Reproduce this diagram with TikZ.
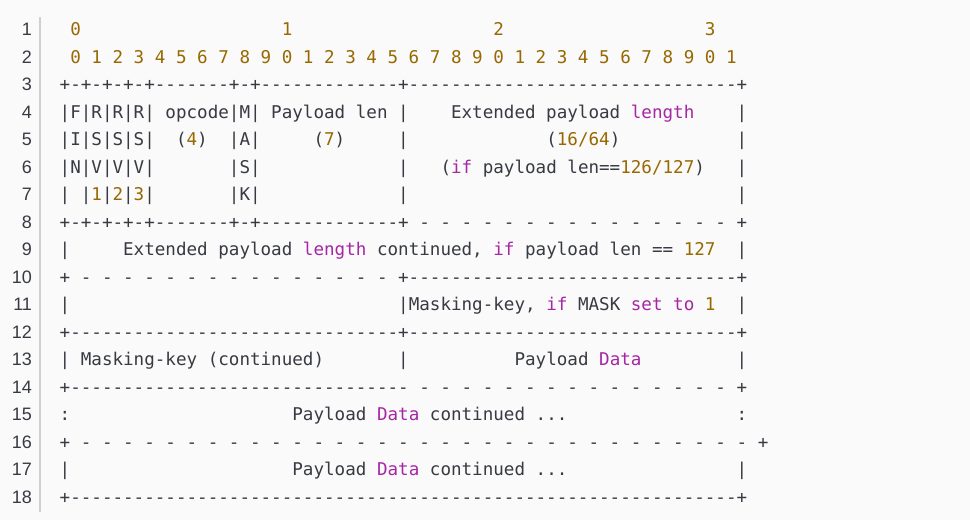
\documentclass[tikz,border=0pt]{standalone}
\usepackage{fontspec}
\setmonofont{DejaVu Sans Mono}
\newfontfamily\lnfont{Liberation Sans}
\definecolor{bgc}{HTML}{FAFAFA}
\definecolor{txtc}{HTML}{383A42}
\definecolor{numc}{HTML}{986801}
\definecolor{kwc}{HTML}{A626A4}
\definecolor{sepc}{HTML}{CFCFCF}
\ExplSyntaxOn
\cs_new:Npn \blanks #1 { \prg_replicate:nn {#1} { \nobreakspace } }
\cs_new:Npn \dashes #1 { \prg_replicate:nn {#1} { - } }
\cs_new:Npn \ddash #1 { \prg_replicate:nn {#1} { \nobreakspace - } }
\ExplSyntaxOff
\newcommand\nm[1]{\textcolor{numc}{#1}}
\newcommand\kw[1]{\textcolor{kwc}{#1}}
\tikzset{
  code/.style={anchor=base west, inner sep=0pt, outer sep=0pt, text=txtc,
    font=\ttfamily\fontsize{17.57}{20}\selectfont},
  lnum/.style={anchor=base east, inner sep=0pt, outer sep=0pt, text=txtc,
    font=\lnfont\fontsize{18}{20}\selectfont},
  sep/.style={draw=sepc, line width=1.5pt}
}
\begin{document}
\begin{tikzpicture}[x=1pt,y=1pt]
\useasboundingbox[fill=bgc] (0,0) rectangle (970,-520);
\coordinate (s1) at (40,-17);
\coordinate (s2) at (40,-512);
\draw[sep] (s1) -- (s2);
\foreach \i in {1,...,18}{
  \node[lnum] (n\i) at (32,{-(35.5+(\i-1)*27.53)}) {\i};
}
\def\X{59.7}
\def\Y#1{-(35.5+(#1-1)*27.53)}
\node[code] (l1) at (\X,{\Y{1}}) {\blanks{1}\nm{0}\blanks{19}\nm{1}\blanks{19}\nm{2}\blanks{19}\nm{3}};
\node[code] (l2) at (\X,{\Y{2}}) {\blanks{1}\nm{0~1~2~3~4~5~6~7~8~9~0~1~2~3~4~5~6~7~8~9~0~1~2~3~4~5~6~7~8~9~0~1}};
\node[code] (l3) at (\X,{\Y{3}}) {+-+-+-+-+\dashes{7}+-+\dashes{13}+\dashes{31}+};
\node[code] (l4) at (\X,{\Y{4}}) {|F|R|R|R|~opcode|M|~Payload~len~|\blanks{4}Extended~payload~\kw{length}\blanks{4}|};
\node[code] (l5) at (\X,{\Y{5}}) {|I|S|S|S|\blanks{2}(\nm{4})\blanks{2}|A|\blanks{5}(\nm{7})\blanks{5}|\blanks{13}(\nm{16/64})\blanks{11}|};
\node[code] (l6) at (\X,{\Y{6}}) {|N|V|V|V|\blanks{7}|S|\blanks{13}|\blanks{3}(\kw{if}~payload~len==\nm{126/127})\blanks{3}|};
\node[code] (l7) at (\X,{\Y{7}}) {|~|\nm{1}|\nm{2}|\nm{3}|\blanks{7}|K|\blanks{13}|\blanks{31}|};
\node[code] (l8) at (\X,{\Y{8}}) {+-+-+-+-+\dashes{7}+-+\dashes{13}+\ddash{15}~+};
\node[code] (l9) at (\X,{\Y{9}}) {|\blanks{5}Extended~payload~\kw{length}~continued,~\kw{if}~payload~len~==~\nm{127}\blanks{2}|};
\node[code] (l10) at (\X,{\Y{10}}) {+\ddash{15}~+\dashes{31}+};
\node[code] (l11) at (\X,{\Y{11}}) {|\blanks{31}|Masking-key,~\kw{if}~MASK~\kw{set}~\kw{to}~\nm{1}\blanks{2}|};
\node[code] (l12) at (\X,{\Y{12}}) {+\dashes{31}+\dashes{31}+};
\node[code] (l13) at (\X,{\Y{13}}) {|~Masking-key~(continued)\blanks{7}|\blanks{10}Payload~\kw{Data}\blanks{9}|};
\node[code] (l14) at (\X,{\Y{14}}) {+\dashes{32}\ddash{15}~+};
\node[code] (l15) at (\X,{\Y{15}}) {:\blanks{21}Payload~\kw{Data}~continued~...\blanks{16}:};
\node[code] (l16) at (\X,{\Y{16}}) {+\ddash{32}~+};
\node[code] (l17) at (\X,{\Y{17}}) {|\blanks{21}Payload~\kw{Data}~continued~...\blanks{16}|};
\node[code] (l18) at (\X,{\Y{18}}) {+\dashes{63}+};
\end{tikzpicture}
\end{document}
